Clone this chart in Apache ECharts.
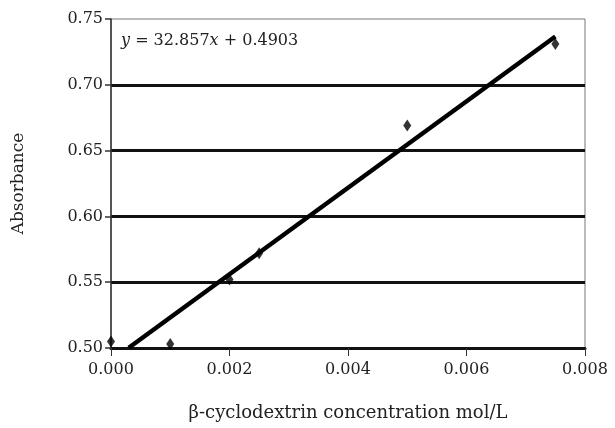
<!DOCTYPE html>
<html>
<head>
<meta charset="utf-8">
<script src="https://cdn.jsdelivr.net/npm/echarts@6/dist/echarts.min.js"></script>
<style>
  html, body { margin: 0; padding: 0; background: #fff; }
  #chart { width: 615px; height: 428px; }
</style>
</head>
<body>
<div id="chart"></div>
<script>
const concentrations = [0.0, 0.001, 0.002, 0.0025, 0.005, 0.0075];
const absorbances = [0.505, 0.503, 0.552, 0.572, 0.669, 0.731];
const slope = 32.857;
const intercept = 0.4903;
const fitRange = [0.0003, 0.0075];

const serif = "'DejaVu Serif', 'Liberation Serif', serif";
const points = concentrations.map((x, i) => [x, absorbances[i]]);
const fitLine = fitRange.map((x) => [x, slope * x + intercept]);

const chart = echarts.init(document.getElementById("chart"));

chart.setOption({
  animation: false,
  backgroundColor: "#fff",
  grid: { left: 111, top: 19, right: 30, bottom: 80, show: true, borderColor: "#777", borderWidth: 1 },
  xAxis: {
    type: "value",
    min: 0,
    max: 0.008,
    interval: 0.002,
    name: "β-cyclodextrin concentration mol/L",
    nameLocation: "middle",
    nameGap: 56,
    nameTextStyle: { fontFamily: serif, fontSize: 18, color: "#222" },
    axisLine: { onZero: false, lineStyle: { color: "#111", width: 3 } },
    axisTick: { show: true, length: 8, lineStyle: { color: "#333", width: 1 } },
    axisLabel: { fontFamily: serif, fontSize: 16, color: "#222", margin: 14, formatter: (v) => v.toFixed(3) },
    splitLine: { show: false },
  },
  yAxis: {
    type: "value",
    min: 0.5,
    max: 0.75,
    interval: 0.05,
    name: "Absorbance",
    nameLocation: "middle",
    nameGap: 84,
    nameTextStyle: { fontFamily: serif, fontSize: 17, color: "#222" },
    axisLine: { lineStyle: { color: "#333", width: 1.5 } },
    axisTick: { show: true, length: 6, lineStyle: { color: "#333", width: 1.5 } },
    axisLabel: { fontFamily: serif, fontSize: 16, color: "#222", margin: 8, formatter: (v) => v.toFixed(2) },
    splitLine: {
      show: true,
      showMinLine: false,
      showMaxLine: false,
      lineStyle: { color: "#111", width: 3 },
    },
  },
  series: [
    {
      type: "line",
      data: fitLine,
      symbol: "none",
      lineStyle: { color: "#000", width: 4.5 },
      z: 3,
    },
    {
      type: "scatter",
      data: points,
      symbol: "diamond",
      symbolSize: [8, 12],
      itemStyle: { color: "#000" },
      clip: false,
      z: 4,
    },
  ],
  graphic: [
    {
      type: "text",
      left: 121,
      top: 33,
      style: {
        text: "{i|y} = 32.857{i|x} + 0.4903",
        fontFamily: serif,
        fontSize: 16,
        fill: "#222",
        rich: { i: { fontFamily: serif, fontStyle: "italic", fontSize: 16, fill: "#222" } },
      },
    },
  ],
});
</script>
</body>
</html>
